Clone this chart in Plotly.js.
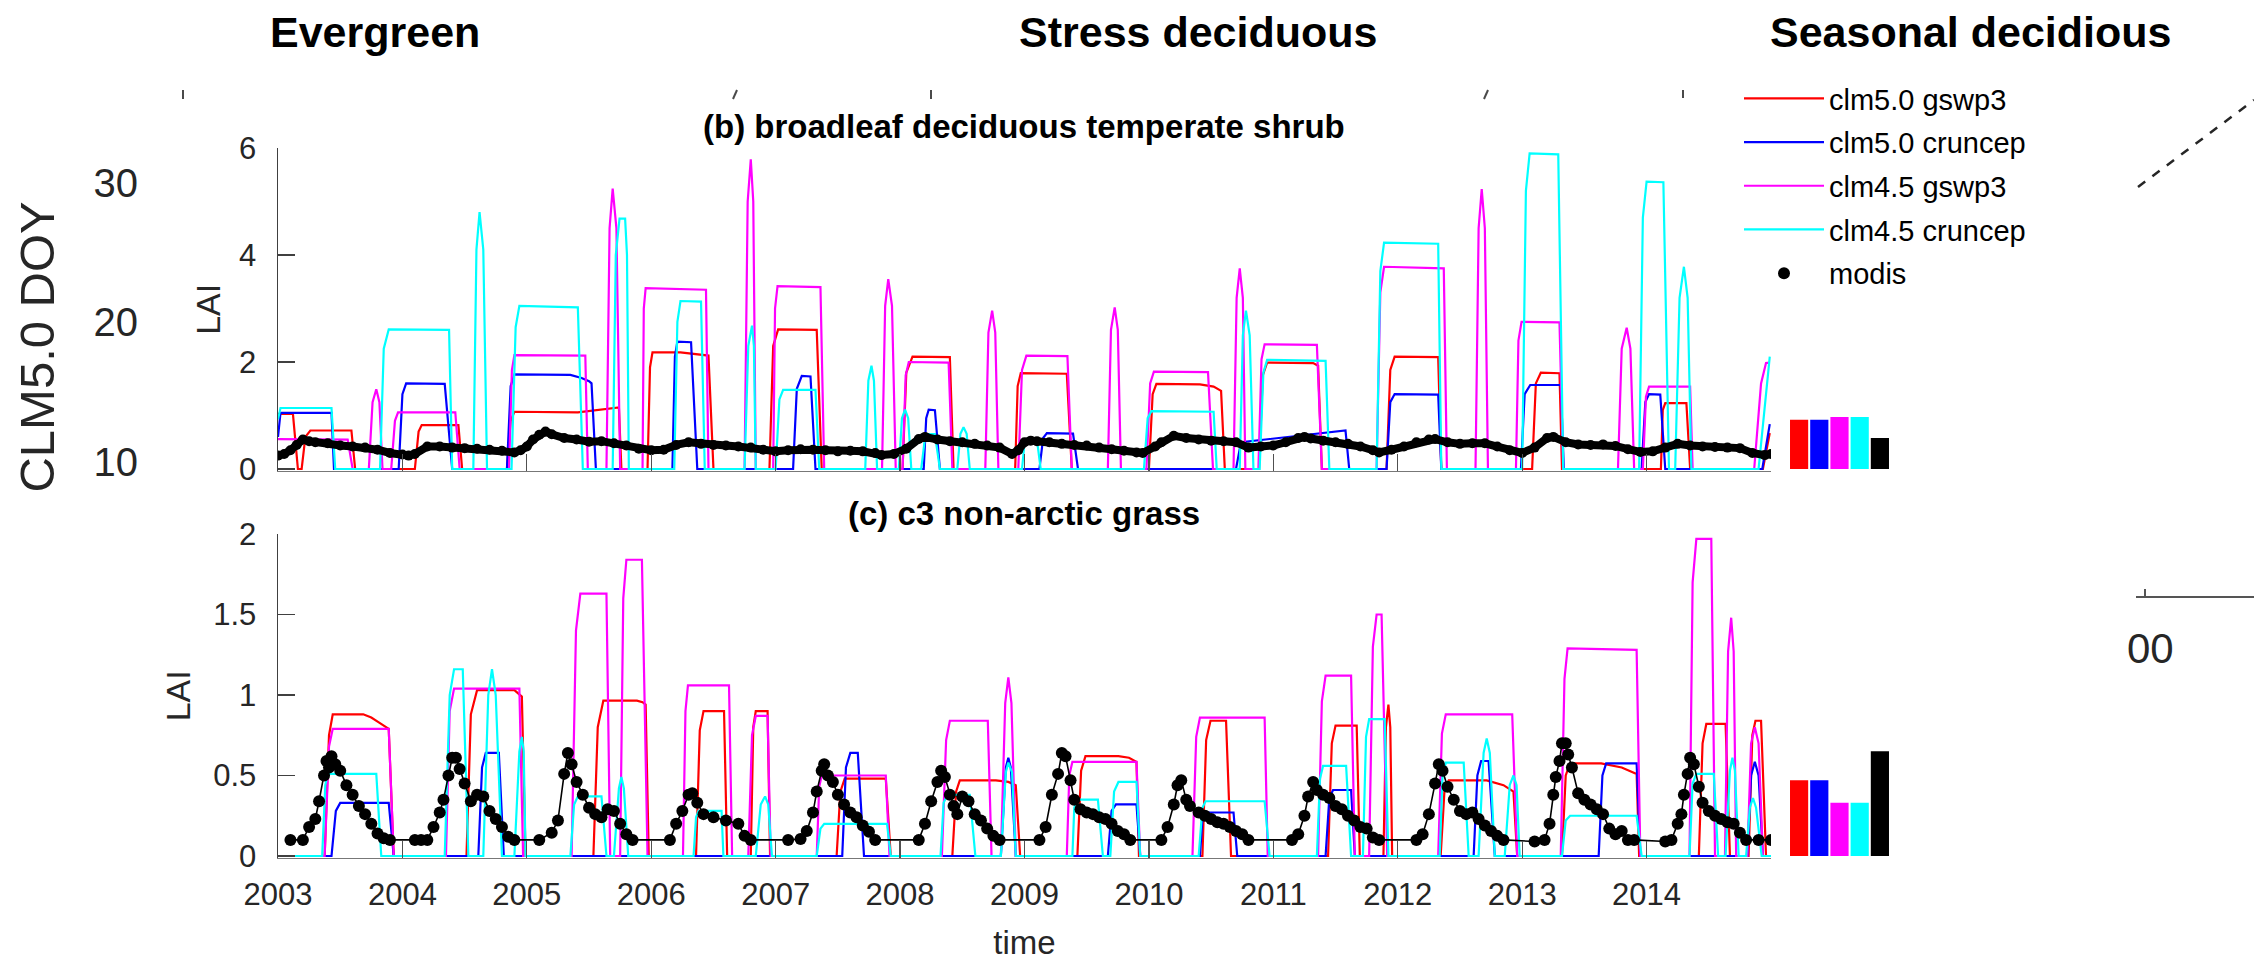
<!DOCTYPE html>
<html><head><meta charset="utf-8">
<script src="https://cdn.plot.ly/plotly-3.0.1.min.js"></script>
<style>html,body{margin:0;padding:0;background:#fff;overflow:hidden}#chart{width:2254px;height:966px}</style>
</head><body><div id="chart"></div>
<script>
// ---------------- data ----------------
const years = [2003,2004,2005,2006,2007,2008,2009,2010,2011,2012,2013,2014];
const yearLabels = years.map(String);
const seriesNames = ['clm5.0 gswp3','clm5.0 cruncep','clm4.5 gswp3','clm4.5 cruncep','modis'];
const seriesColors = ['#ff0000','#0000ff','#ff00ff','#00ffff','#000000'];
const ticksB = [0,2,4,6];
const ticksC = [0,0.5,1,1.5,2];
const ticksCText = ['0','0.5','1','1.5','2'];
const doyTicks = [10,20,30];
const meanB = [0.92,0.92,0.97,0.97,0.58];
const meanC = [0.47,0.47,0.33,0.33,0.65];

// (b) broadleaf deciduous temperate shrub : [decimal year, LAI]
const bRed = [[2003.0,1.03],[2003.12,1.03],[2003.16,0],[2003.19,0],[2003.22,0.6],[2003.26,0.72],[2003.59,0.72],[2003.62,0],
[2004.10,0],[2004.13,0.7],[2004.155,0.82],[2004.45,0.82],[2004.48,0],
[2004.84,0],[2004.87,0.9],[2004.90,1.07],[2005.41,1.06],[2005.74,1.15],[2005.76,0],
[2005.97,0],[2005.99,1.9],[2006.01,2.18],[2006.234,2.18],[2006.46,2.12],[2006.50,0],
[2006.95,0],[2006.98,2.3],[2007.02,2.61],[2007.33,2.60],[2007.37,0],
[2008.02,0],[2008.05,1.8],[2008.10,2.10],[2008.40,2.09],[2008.43,0],
[2008.925,0],[2008.945,1.55],[2008.97,1.79],[2009.34,1.78],[2009.38,0],
[2010.0,0],[2010.03,1.4],[2010.06,1.59],[2010.41,1.58],[2010.52,1.54],[2010.58,1.46],[2010.61,0],
[2010.885,0],[2010.915,1.75],[2010.95,1.99],[2011.32,1.98],[2011.36,1.93],[2011.39,0],
[2011.91,0],[2011.94,1.85],[2011.975,2.10],[2012.325,2.09],[2012.35,0],
[2013.08,0],[2013.11,1.6],[2013.15,1.80],[2013.30,1.79],[2013.32,0],
[2014.115,0],[2014.13,1.1],[2014.15,1.23],[2014.32,1.23],[2014.35,0],
[2014.935,0],[2014.99,0.67]];
const bBlue = [[2003.0,0.6],[2003.02,1.05],[2003.43,1.05],[2003.45,0],
[2003.97,0],[2004.0,1.4],[2004.03,1.6],[2004.34,1.59],[2004.40,0],
[2004.84,0],[2004.87,1.55],[2004.90,1.77],[2005.35,1.76],[2005.44,1.70],[2005.50,1.64],[2005.52,1.60],[2005.555,0],
[2006.17,0],[2006.19,2.1],[2006.21,2.38],[2006.32,2.37],[2006.37,0],
[2007.14,0],[2007.17,1.5],[2007.21,1.74],[2007.28,1.73],[2007.32,0],
[2008.19,0],[2008.21,0.95],[2008.23,1.11],[2008.28,1.10],[2008.32,0],
[2009.12,0],[2009.15,0.58],[2009.18,0.67],[2009.39,0.66],[2009.43,0],
[2010.70,0],[2010.74,0.50],[2011.58,0.72],[2011.61,0],
[2011.91,0],[2011.94,1.25],[2011.975,1.40],[2012.325,1.39],[2012.35,0],
[2012.99,0],[2013.02,1.4],[2013.065,1.57],[2013.31,1.57],[2013.335,0],
[2013.96,0],[2013.99,1.25],[2014.02,1.40],[2014.11,1.39],[2014.15,0],
[2014.93,0],[2014.99,0.84]];
const bMag = [[2003.0,0.56],[2003.56,0.55],[2003.60,0],
[2003.73,0],[2003.76,1.25],[2003.79,1.49],[2003.815,1.25],[2003.84,0],
[2003.91,0],[2003.94,0.9],[2003.965,1.06],[2004.425,1.06],[2004.46,0],
[2004.857,0],[2004.88,1.85],[2004.90,2.13],[2005.47,2.12],[2005.49,0],
[2005.64,0],[2005.665,4.5],[2005.69,5.24],[2005.72,4.5],[2005.75,0],
[2005.93,0],[2005.94,3.0],[2005.955,3.38],[2006.44,3.35],[2006.46,0],
[2006.75,0],[2006.775,5.0],[2006.80,5.79],[2006.82,5.0],[2006.84,0],
[2006.98,0],[2006.995,3.0],[2007.015,3.42],[2007.36,3.40],[2007.39,0],
[2007.855,0],[2007.88,3.05],[2007.905,3.55],[2007.935,3.05],[2007.965,0],
[2008.02,0],[2008.045,1.75],[2008.07,2.0],[2008.39,1.99],[2008.42,0],
[2008.685,0],[2008.71,2.55],[2008.74,2.96],[2008.765,2.55],[2008.79,0],
[2008.95,0],[2008.98,1.85],[2009.015,2.12],[2009.345,2.11],[2009.38,0],
[2009.67,0],[2009.695,2.6],[2009.725,3.02],[2009.75,2.6],[2009.775,0],
[2009.98,0],[2010.01,1.6],[2010.04,1.82],[2010.475,1.81],[2010.515,0],
[2010.68,0],[2010.705,3.2],[2010.73,3.75],[2010.755,3.2],[2010.775,0],
[2010.88,0],[2010.905,2.05],[2010.93,2.33],[2011.35,2.32],[2011.39,0],
[2011.83,0],[2011.86,3.3],[2011.89,3.78],[2012.37,3.75],[2012.395,0],
[2012.625,0],[2012.65,4.5],[2012.675,5.23],[2012.70,4.5],[2012.725,0],
[2012.95,0],[2012.97,2.4],[2012.995,2.75],[2013.30,2.74],[2013.33,0],
[2013.77,0],[2013.80,2.25],[2013.84,2.64],[2013.87,2.25],[2013.90,0],
[2013.97,0],[2013.995,1.35],[2014.02,1.54],[2014.35,1.54],[2014.37,0],
[2014.865,0],[2014.92,1.6],[2014.96,1.98],[2014.99,1.99]];
const bCyan = [[2003.0,0.93],[2003.02,1.14],[2003.43,1.14],[2003.46,0],
[2003.82,0],[2003.85,2.25],[2003.89,2.61],[2004.375,2.60],[2004.40,0],
[2004.57,0],[2004.595,4.1],[2004.62,4.80],[2004.65,4.1],[2004.68,0],
[2004.877,0],[2004.91,2.65],[2004.94,3.05],[2005.41,3.02],[2005.45,0],
[2005.69,0],[2005.715,4.0],[2005.745,4.68],[2005.79,4.68],[2005.805,4.0],[2005.82,0],
[2006.185,0],[2006.21,2.75],[2006.235,3.14],[2006.40,3.13],[2006.43,0],
[2006.75,0],[2006.78,2.3],[2006.81,2.68],[2006.825,2.3],[2006.84,0],
[2007.0,0],[2007.03,1.3],[2007.06,1.48],[2007.32,1.48],[2007.35,0],
[2007.72,0],[2007.745,1.65],[2007.77,1.93],[2007.79,1.65],[2007.815,0],
[2007.99,0],[2008.015,0.95],[2008.04,1.11],[2008.065,0.95],[2008.09,0],
[2008.17,0],[2008.20,0.58],[2008.22,0.65],[2008.28,0.65],[2008.32,0],
[2008.46,0],[2008.485,0.66],[2008.51,0.78],[2008.535,0.66],[2008.56,0],
[2008.98,0],[2009.0,0.48],[2009.01,0.55],[2009.10,0.55],[2009.13,0],
[2009.96,0],[2009.99,0.95],[2010.02,1.08],[2010.52,1.07],[2010.545,0],
[2010.73,0],[2010.755,2.5],[2010.78,2.96],[2010.81,2.5],[2010.84,0],
[2010.89,0],[2010.92,1.8],[2010.95,2.04],[2011.42,2.02],[2011.45,0],
[2011.83,0],[2011.86,3.7],[2011.89,4.23],[2012.325,4.21],[2012.35,0],
[2013.0,0],[2013.03,5.2],[2013.06,5.90],[2013.29,5.88],[2013.33,0],
[2013.94,0],[2013.97,4.7],[2014.0,5.37],[2014.135,5.36],[2014.18,0],
[2014.23,0],[2014.265,3.2],[2014.30,3.78],[2014.33,3.2],[2014.36,0],
[2014.90,0],[2014.99,2.10]];
const modisB = [[2003.00,0.25],[2003.05,0.28],[2003.10,0.35],[2003.15,0.45],[2003.20,0.55],[2003.25,0.52],[2003.30,0.50],[2003.40,0.48],[2003.50,0.44],[2003.60,0.42],[2003.70,0.40],[2003.80,0.36],[2003.90,0.30],
[2004.00,0.27],[2004.05,0.25],[2004.10,0.28],[2004.20,0.42],[2004.30,0.42],[2004.40,0.40],[2004.50,0.39],[2004.60,0.38],[2004.70,0.36],[2004.80,0.34],[2004.90,0.31],[2004.95,0.35],
[2005.00,0.42],[2005.05,0.55],[2005.10,0.64],[2005.15,0.70],[2005.20,0.65],[2005.30,0.58],[2005.40,0.55],[2005.50,0.51],[2005.60,0.52],[2005.70,0.48],[2005.80,0.44],[2005.90,0.38],
[2006.00,0.35],[2006.10,0.36],[2006.20,0.45],[2006.30,0.50],[2006.40,0.47],[2006.50,0.45],[2006.60,0.44],[2006.70,0.42],[2006.80,0.40],[2006.90,0.36],
[2007.00,0.33],[2007.10,0.35],[2007.20,0.37],[2007.30,0.36],[2007.40,0.35],[2007.50,0.33],[2007.60,0.34],[2007.70,0.33],[2007.80,0.30],[2007.85,0.26],[2007.95,0.28],
[2008.05,0.38],[2008.15,0.56],[2008.20,0.60],[2008.30,0.55],[2008.40,0.52],[2008.50,0.50],[2008.60,0.47],[2008.70,0.44],[2008.80,0.40],[2008.90,0.28],[2008.95,0.35],
[2009.00,0.50],[2009.05,0.53],[2009.10,0.52],[2009.20,0.50],[2009.30,0.47],[2009.40,0.45],[2009.50,0.44],[2009.60,0.40],[2009.70,0.37],[2009.80,0.34],[2009.90,0.31],[2009.95,0.30],
[2010.05,0.42],[2010.10,0.50],[2010.20,0.62],[2010.30,0.58],[2010.40,0.55],[2010.50,0.53],[2010.60,0.52],[2010.70,0.50],[2010.80,0.40],[2010.90,0.42],
[2011.00,0.44],[2011.10,0.50],[2011.20,0.58],[2011.25,0.60],[2011.30,0.57],[2011.40,0.53],[2011.50,0.50],[2011.60,0.47],[2011.70,0.42],[2011.80,0.35],[2011.85,0.31],[2011.95,0.36],
[2012.05,0.42],[2012.15,0.50],[2012.25,0.55],[2012.30,0.56],[2012.40,0.50],[2012.50,0.47],[2012.60,0.48],[2012.70,0.48],[2012.80,0.42],[2012.90,0.35],
[2013.00,0.30],[2013.10,0.40],[2013.20,0.58],[2013.25,0.60],[2013.35,0.50],[2013.45,0.46],[2013.55,0.45],[2013.65,0.46],[2013.75,0.43],[2013.85,0.37],[2013.95,0.32],
[2014.05,0.33],[2014.15,0.40],[2014.25,0.47],[2014.35,0.44],[2014.45,0.42],[2014.55,0.41],[2014.65,0.40],[2014.75,0.39],[2014.85,0.30],[2014.95,0.26],[2015.00,0.28]];

// (c) c3 non-arctic grass : [decimal year, LAI]
const cRed = [[2003.0,0],[2003.375,0],[2003.41,0.75],[2003.44,0.88],[2003.685,0.88],[2003.75,0.86],[2003.81,0.83],[2003.89,0.79],[2003.93,0],
[2004.515,0],[2004.55,0.88],[2004.60,1.03],[2004.90,1.03],[2004.96,0.99],[2004.99,0],
[2005.535,0],[2005.57,0.8],[2005.615,0.965],[2005.885,0.965],[2005.93,0.955],[2005.955,0.94],[2005.98,0],
[2006.36,0],[2006.39,0.78],[2006.42,0.90],[2006.585,0.90],[2006.61,0],
[2006.80,0],[2006.82,0.8],[2006.84,0.90],[2006.935,0.90],[2006.955,0],
[2007.49,0],[2007.52,0.4],[2007.555,0.48],[2007.885,0.48],[2007.925,0],
[2008.42,0],[2008.45,0.4],[2008.48,0.47],[2008.77,0.47],[2008.87,0.46],[2008.93,0.44],[2008.965,0],
[2009.425,0],[2009.455,0.53],[2009.49,0.62],[2009.755,0.62],[2009.84,0.61],[2009.90,0.585],[2009.92,0],
[2010.43,0],[2010.46,0.72],[2010.495,0.84],[2010.62,0.84],[2010.66,0],
[2011.44,0],[2011.47,0.7],[2011.50,0.81],[2011.67,0.81],[2011.695,0],
[2011.885,0],[2011.905,0.8],[2011.925,0.94],[2011.94,0.8],[2011.955,0],
[2012.345,0],[2012.375,0.4],[2012.41,0.47],[2012.715,0.47],[2012.85,0.44],[2012.93,0.40],[2012.96,0],
[2013.32,0],[2013.35,0.5],[2013.385,0.575],[2013.635,0.575],[2013.80,0.55],[2013.92,0.51],[2013.94,0],
[2014.42,0],[2014.45,0.7],[2014.48,0.82],[2014.635,0.82],[2014.67,0],
[2014.82,0],[2014.85,0.75],[2014.875,0.84],[2014.92,0.84],[2014.96,0],[2015.0,0]];
const cBlue = [[2003.0,0],[2003.43,0],[2003.465,0.28],[2003.50,0.33],[2003.89,0.33],[2003.93,0],
[2004.61,0],[2004.64,0.55],[2004.67,0.64],[2004.775,0.64],[2004.815,0],
[2007.535,0],[2007.565,0.55],[2007.60,0.64],[2007.66,0.64],[2007.71,0],
[2008.81,0],[2008.85,0.55],[2008.87,0.61],[2008.89,0.55],[2008.93,0],
[2009.67,0],[2009.70,0.28],[2009.735,0.32],[2009.90,0.32],[2009.93,0],
[2010.41,0],[2010.43,0.23],[2010.455,0.27],[2010.68,0.27],[2010.71,0],
[2011.42,0],[2011.45,0.36],[2011.48,0.41],[2011.625,0.41],[2011.655,0],
[2012.61,0],[2012.64,0.5],[2012.67,0.59],[2012.73,0.59],[2012.78,0],
[2013.615,0],[2013.645,0.5],[2013.675,0.575],[2013.92,0.575],[2013.95,0],
[2014.81,0],[2014.84,0.5],[2014.87,0.585],[2014.90,0.5],[2014.935,0],[2015.0,0]];
const cMag = [[2003.0,0],[2003.375,0],[2003.41,0.68],[2003.44,0.79],[2003.89,0.79],[2003.93,0],
[2004.35,0],[2004.38,0.9],[2004.415,1.04],[2004.94,1.04],[2004.97,0],
[2005.36,0],[2005.395,1.4],[2005.43,1.63],[2005.64,1.63],[2005.67,0],
[2005.75,0],[2005.775,1.6],[2005.80,1.84],[2005.925,1.84],[2005.97,0],
[2006.255,0],[2006.275,0.9],[2006.295,1.06],[2006.625,1.06],[2006.65,0],
[2006.78,0],[2006.81,0.75],[2006.84,0.87],[2006.935,0.87],[2006.96,0],
[2007.33,0],[2007.35,0.43],[2007.37,0.50],[2007.885,0.50],[2007.915,0],
[2008.336,0],[2008.37,0.72],[2008.40,0.84],[2008.705,0.84],[2008.735,0],
[2008.81,0],[2008.845,0.95],[2008.87,1.11],[2008.895,0.95],[2008.93,0],
[2009.34,0],[2009.36,0.5],[2009.385,0.585],[2009.90,0.585],[2009.93,0],
[2010.35,0],[2010.38,0.74],[2010.41,0.86],[2010.93,0.86],[2010.955,0],
[2011.36,0],[2011.39,0.96],[2011.42,1.12],[2011.625,1.12],[2011.655,0],
[2011.77,0],[2011.80,1.3],[2011.83,1.50],[2011.87,1.50],[2011.915,0],
[2012.325,0],[2012.355,0.76],[2012.386,0.88],[2012.92,0.88],[2012.96,0],
[2013.31,0],[2013.34,1.1],[2013.365,1.29],[2013.92,1.28],[2013.95,0],
[2014.345,0],[2014.37,1.7],[2014.40,1.97],[2014.52,1.97],[2014.55,0],
[2014.63,0],[2014.655,1.27],[2014.68,1.48],[2014.70,1.27],[2014.72,0],
[2014.81,0],[2014.84,0.7],[2014.87,0.80],[2014.90,0.7],[2014.935,0],[2015.0,0]];
const cCyan = [[2003.0,0],[2003.355,0],[2003.38,0.44],[2003.40,0.51],[2003.79,0.51],[2003.83,0],
[2004.34,0],[2004.38,1.0],[2004.415,1.16],[2004.485,1.16],[2004.53,0],
[2004.65,0],[2004.69,1.0],[2004.72,1.16],[2004.75,1.0],[2004.80,0],
[2004.90,0],[2004.94,0.65],[2004.96,0.74],[2004.975,0.65],[2004.99,0],
[2005.35,0],[2005.38,0.32],[2005.41,0.37],[2005.60,0.37],[2005.64,0],
[2005.70,0],[2005.74,0.42],[2005.76,0.49],[2005.78,0.42],[2005.815,0],
[2006.34,0],[2006.36,0.24],[2006.38,0.28],[2006.565,0.28],[2006.58,0],
[2006.84,0],[2006.88,0.32],[2006.915,0.37],[2006.94,0.32],[2006.97,0],
[2007.33,0],[2007.36,0.17],[2007.39,0.20],[2007.895,0.20],[2007.925,0],
[2008.325,0],[2008.35,0.33],[2008.38,0.38],[2008.56,0.38],[2008.605,0],
[2008.81,0],[2008.85,0.52],[2008.87,0.58],[2008.90,0.52],[2008.93,0],
[2009.385,0],[2009.40,0.3],[2009.425,0.35],[2009.59,0.35],[2009.63,0],
[2009.69,0],[2009.72,0.4],[2009.755,0.46],[2009.90,0.46],[2009.93,0],
[2010.40,0],[2010.43,0.3],[2010.455,0.34],[2010.93,0.34],[2010.97,0],
[2011.35,0],[2011.375,0.48],[2011.40,0.56],[2011.585,0.56],[2011.625,0],
[2011.72,0],[2011.745,0.74],[2011.77,0.85],[2011.895,0.85],[2011.925,0],
[2012.337,0],[2012.36,0.5],[2012.386,0.58],[2012.53,0.58],[2012.57,0],
[2012.65,0],[2012.69,0.64],[2012.715,0.73],[2012.74,0.64],[2012.78,0],
[2012.86,0],[2012.90,0.44],[2012.93,0.50],[2012.955,0.44],[2012.98,0],
[2013.32,0],[2013.35,0.22],[2013.385,0.25],[2013.92,0.25],[2013.96,0],
[2014.345,0],[2014.37,0.45],[2014.40,0.51],[2014.54,0.51],[2014.575,0],
[2014.635,0],[2014.67,0.53],[2014.69,0.61],[2014.71,0.53],[2014.74,0],
[2014.80,0],[2014.83,0.30],[2014.855,0.36],[2014.88,0.30],[2014.925,0],[2015.0,0]];
const modisC = [[2003.10,0.10],[2003.20,0.10],[2003.25,0.18],[2003.30,0.23],[2003.33,0.34],[2003.37,0.50],[2003.39,0.59],[2003.41,0.55],[2003.43,0.62],[2003.46,0.57],[2003.50,0.53],[2003.55,0.44],[2003.60,0.38],[2003.65,0.31],[2003.70,0.26],[2003.75,0.20],[2003.80,0.14],[2003.85,0.11],[2003.90,0.10],
[2004.10,0.10],[2004.15,0.10],[2004.20,0.10],[2004.25,0.18],[2004.30,0.27],[2004.33,0.35],[2004.37,0.50],[2004.40,0.61],[2004.43,0.61],[2004.46,0.54],[2004.50,0.45],[2004.55,0.34],[2004.60,0.38],[2004.65,0.37],[2004.70,0.28],[2004.75,0.23],[2004.80,0.18],[2004.85,0.12],[2004.90,0.10],
[2005.10,0.10],[2005.20,0.145],[2005.25,0.22],[2005.30,0.51],[2005.33,0.64],[2005.36,0.57],[2005.40,0.46],[2005.45,0.38],[2005.50,0.30],[2005.55,0.26],[2005.60,0.24],[2005.65,0.29],[2005.70,0.28],[2005.75,0.20],[2005.80,0.135],[2005.85,0.10],
[2006.15,0.10],[2006.20,0.20],[2006.25,0.28],[2006.30,0.38],[2006.33,0.39],[2006.37,0.33],[2006.42,0.26],[2006.50,0.24],[2006.60,0.22],[2006.70,0.20],[2006.75,0.125],[2006.80,0.10],
[2007.10,0.10],[2007.20,0.105],[2007.25,0.155],[2007.30,0.27],[2007.33,0.40],[2007.37,0.53],[2007.39,0.57],[2007.42,0.50],[2007.46,0.46],[2007.50,0.38],[2007.55,0.32],[2007.60,0.27],[2007.65,0.24],[2007.70,0.19],[2007.75,0.15],[2007.80,0.10],
[2008.15,0.10],[2008.20,0.20],[2008.25,0.34],[2008.30,0.46],[2008.33,0.53],[2008.36,0.49],[2008.40,0.38],[2008.43,0.31],[2008.46,0.26],[2008.50,0.37],[2008.55,0.34],[2008.60,0.26],[2008.65,0.22],[2008.70,0.17],[2008.75,0.125],[2008.80,0.10],
[2009.12,0.10],[2009.17,0.18],[2009.22,0.38],[2009.27,0.51],[2009.30,0.64],[2009.33,0.62],[2009.37,0.47],[2009.40,0.35],[2009.45,0.29],[2009.50,0.27],[2009.55,0.26],[2009.60,0.24],[2009.65,0.23],[2009.70,0.20],[2009.75,0.155],[2009.80,0.135],[2009.85,0.10],
[2010.10,0.10],[2010.15,0.18],[2010.20,0.32],[2010.23,0.44],[2010.26,0.47],[2010.30,0.35],[2010.33,0.31],[2010.40,0.27],[2010.45,0.25],[2010.50,0.23],[2010.55,0.21],[2010.60,0.20],[2010.65,0.18],[2010.70,0.155],[2010.75,0.135],[2010.80,0.10],
[2011.15,0.10],[2011.20,0.135],[2011.25,0.25],[2011.28,0.37],[2011.32,0.46],[2011.35,0.41],[2011.40,0.38],[2011.45,0.36],[2011.50,0.31],[2011.55,0.29],[2011.60,0.25],[2011.65,0.22],[2011.70,0.18],[2011.75,0.17],[2011.80,0.115],[2011.85,0.10],
[2012.15,0.10],[2012.20,0.135],[2012.25,0.26],[2012.30,0.45],[2012.33,0.57],[2012.36,0.53],[2012.40,0.43],[2012.45,0.35],[2012.50,0.28],[2012.55,0.26],[2012.60,0.27],[2012.65,0.23],[2012.70,0.19],[2012.75,0.155],[2012.80,0.125],[2012.85,0.10],
[2013.10,0.09],[2013.18,0.10],[2013.22,0.20],[2013.25,0.38],[2013.27,0.49],[2013.30,0.59],[2013.32,0.70],[2013.35,0.70],[2013.37,0.63],[2013.40,0.55],[2013.45,0.39],[2013.50,0.35],[2013.55,0.32],[2013.60,0.29],[2013.65,0.26],[2013.70,0.17],[2013.75,0.135],[2013.80,0.155],[2013.85,0.10],[2013.90,0.10],
[2014.15,0.09],[2014.20,0.10],[2014.25,0.20],[2014.28,0.26],[2014.30,0.38],[2014.33,0.51],[2014.35,0.61],[2014.38,0.57],[2014.42,0.43],[2014.45,0.33],[2014.50,0.28],[2014.55,0.25],[2014.60,0.23],[2014.65,0.21],[2014.70,0.20],[2014.75,0.145],[2014.80,0.10],[2014.90,0.10],[2015.0,0.10]];

// ---------------- layout helpers ----------------
const W = 2254, H = 966;
const fx = p => p / W, fy = p => 1 - p / H;
const X0 = 278, X1 = 1771;
const FONT = 'Liberation Sans, Arial, Helvetica, sans-serif';
const TXT = '#262626';
const xs = a => a.map(p => p[0]), ys = a => a.map(p => p[1]);

const traces = [];
[bRed, bBlue, bMag, bCyan].forEach((s, i) => traces.push({
  type: 'scatter', mode: 'lines', x: xs(s), y: ys(s), xaxis: 'x', yaxis: 'y',
  name: seriesNames[i], legendgroup: seriesNames[i], line: {color: seriesColors[i], width: 2.2}, hoverinfo: 'skip'
}));
traces.push({type:'scatter', mode:'lines+markers', x: xs(modisB), y: ys(modisB), xaxis:'x', yaxis:'y',
  name: 'modis', legendgroup:'modis', showlegend:false, line:{color:'#000', width:8}, marker:{color:'#000', size:10}, hoverinfo:'skip'});
[cRed, cBlue, cMag, cCyan].forEach((s, i) => traces.push({
  type: 'scatter', mode: 'lines', x: xs(s), y: ys(s), xaxis: 'x2', yaxis: 'y2',
  name: seriesNames[i], legendgroup: seriesNames[i], showlegend: false, line: {color: seriesColors[i], width: 2.2}, hoverinfo: 'skip'
}));
traces.push({type:'scatter', mode:'lines', x: xs(modisC), y: ys(modisC), xaxis:'x2', yaxis:'y2',
  name:'modis', legendgroup:'modis', showlegend:false, line:{color:'#000', width:1.6}, hoverinfo:'skip'});
traces.push({type:'scatter', mode:'markers', x: xs(modisC), y: ys(modisC), xaxis:'x2', yaxis:'y2',
  name:'modis', legendgroup:'modis', showlegend:true, marker:{color:'#000', size:12}, hoverinfo:'skip'});
const barIdx = [0,1,2,3,4];
traces.push({type:'bar', x: barIdx, y: meanB, xaxis:'x3', yaxis:'y', width: 0.9, showlegend:false,
  marker:{color: seriesColors, line:{width:0}}, hoverinfo:'skip'});
traces.push({type:'bar', x: barIdx, y: meanC, xaxis:'x4', yaxis:'y2', width: 0.9, showlegend:false,
  marker:{color: seriesColors, line:{width:0}}, hoverinfo:'skip'});
traces.push({type:'scatter', mode:'markers', x:[0], y:[null], xaxis:'x5', yaxis:'y5', showlegend:false, hoverinfo:'skip'});

const yAxCommon = {ticks:'inside', ticklen:17, tickwidth:1.3, tickcolor:'#404040', showline:true, linecolor:'#404040', linewidth:1.5,
  showgrid:false, zeroline:false, tickfont:{size:31, color:TXT}, ticklabelstandoff: 14};
const xAxCommon = {range:[2003,2015], tickvals: years, ticktext: yearLabels, ticks:'inside', ticklen:17, tickwidth:1.3, tickcolor:'#505050',
  showline:true, linecolor:'#777777', linewidth:1.5, showgrid:false, zeroline:false, tickfont:{size:31, color:TXT}};

const shapes = [];
const frag = (x0,y0,x1,y1,extra) => shapes.push(Object.assign({type:'line', xref:'paper', yref:'paper', x0:fx(x0), y0:fy(y0), x1:fx(x1), y1:fy(y1), line:{color:'#4a4a4a', width:2}}, extra||{}));
frag(183,90,183,99); frag(733,99,737,90); frag(931,90,931,99); frag(1484,99,1488,90); frag(1683,90,1683,98);
frag(2138,187,2254,100,{line:{color:'#262626', width:2.5, dash:'dash'}});
frag(2136,597,2254,597,{line:{color:'#555', width:2}}); frag(2145,589,2145,597,{line:{color:'#555', width:2}});

const ann = (txt, x, y, size, bold, extra) => Object.assign({text: txt, xref:'paper', yref:'paper', x: fx(x), y: fy(y), xanchor:'center', yanchor:'middle',
  showarrow:false, font:{family: FONT, size: size, color: bold ? '#000' : TXT, weight: bold ? 700 : 400}}, extra||{});

const layout = {
  width: W, height: H, margin:{l:0, r:0, t:0, b:0},
  paper_bgcolor:'#ffffff', plot_bgcolor:'rgba(0,0,0,0)',
  font:{family: FONT, color: TXT},
  showlegend: true, hovermode: false,
  xaxis: Object.assign({}, xAxCommon, {domain:[fx(X0), fx(X1)], anchor:'y', showticklabels:false}),
  yaxis: Object.assign({}, yAxCommon, {domain:[fy(470.6), fy(148)], range:[-0.03, 6], anchor:'x', tickvals: ticksB,
    title:{text:'LAI', font:{size:34, color:TXT}, standoff: 8}}),
  xaxis2: Object.assign({}, xAxCommon, {domain:[fx(X0), fx(X1)], anchor:'y2', ticklabelstandoff: 9,
    title:{text:'time', font:{size:33, color:TXT}, standoff: 19}}),
  yaxis2: Object.assign({}, yAxCommon, {domain:[fy(857.6), fy(534)], range:[-0.01, 2], anchor:'x2', tickvals: ticksC, ticktext: ticksCText,
    title:{text:'LAI', font:{size:34, color:TXT}, standoff: 12}}),
  xaxis3: {domain:[fx(1789), fx(1890)], range:[-0.5, 4.5], anchor:'y', visible:false},
  xaxis4: {domain:[fx(1789), fx(1890)], range:[-0.5, 4.5], anchor:'y2', visible:false},
  xaxis5: {domain:[fx(140), fx(150)], range:[-1, 1], anchor:'y5', visible:false},
  yaxis5: {domain:[fy(650.3), fy(43.5)], range:[-3.5, 40], anchor:'free', position: fx(140), side:'left', tickvals: doyTicks,
    showline:false, ticks:'', showgrid:false, zeroline:false, tickfont:{size:40, color:TXT}, ticklabelstandoff: 2,
    title:{text:'CLM5.0 DOY', font:{size:49, color:TXT}, standoff: 22}},
  legend: {x: fx(1739), y: fy(73), xanchor:'left', yanchor:'top', font:{size:29, color:'#000', family: FONT},
    itemwidth: 80, bgcolor:'rgba(0,0,0,0)', borderwidth:0, traceorder:'grouped', tracegroupgap:3},
  shapes: shapes,
  annotations: [
    ann('Evergreen', 375, 32, 43, true),
    ann('Stress deciduous', 1198, 32, 43, true),
    ann('Seasonal decidious', 1970, 32, 43, true),
    ann('(b) broadleaf deciduous temperate shrub', 1024, 126, 33, true),
    ann('(c) c3 non-arctic grass', 1024, 513, 33, true),
    ann('00', 2150, 648, 42, false)
  ]
};
Plotly.newPlot('chart', traces, layout, {displayModeBar:false, staticPlot:true});
</script></body></html>
